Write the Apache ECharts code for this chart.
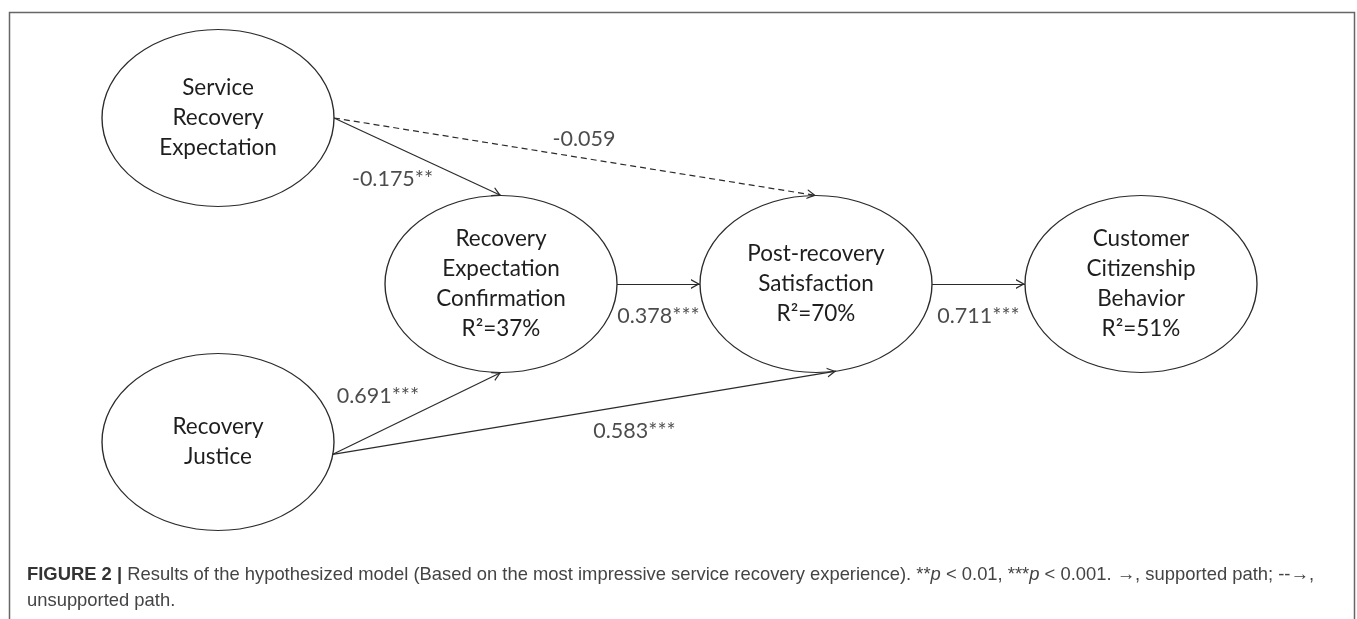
<!DOCTYPE html>
<html><head><meta charset="utf-8">
<script src="https://cdn.jsdelivr.net/npm/echarts@6/dist/echarts.min.js"></script>
<style>html,body{margin:0;padding:0;background:#fff}#chart{width:1357px;height:619px}</style>
</head><body><div id="chart"></div>
<script>
// ---------------- data ----------------
const constructs = ['Service Recovery Expectation', 'Recovery Expectation Confirmation', 'Post-recovery Satisfaction', 'Customer Citizenship Behavior', 'Recovery Justice'];
const constructLines = [['Service', 'Recovery', 'Expectation'], ['Recovery', 'Expectation', 'Confirmation'], ['Post-recovery', 'Satisfaction'], ['Customer', 'Citizenship', 'Behavior'], ['Recovery', 'Justice']];
const rSquared = [null, 37, 70, 51, null];
const pathFrom = [0, 0, 1, 2, 4, 4];
const pathTo = [1, 2, 2, 3, 1, 2];
const pathCoef = [-0.175, -0.059, 0.378, 0.711, 0.691, 0.583];
const pathStars = ['**', '', '***', '***', '***', '***'];
const pathSupported = [true, false, true, true, true, true];
const captionHead = 'FIGURE 2 |';
const captionBody1 = ' Results of the hypothesized model (Based on the most impressive service recovery experience). **';
const captionBody2 = ' < 0.01, ***';
const captionBody3 = ' < 0.001. \u2192, supported path; --\u2192,';
const captionBody4 = 'unsupported path.';

// ---------------- layout (pixels) ----------------
const nodeCenter = [[218, 118], [501, 284], [816, 284], [1141, 284], [218, 442]];
const nodeRx = 116, nodeRy = 88.5;
const anchorAngle = [[0, -90], [0, -90], [0, 180], [0, 180], [8, 90], [8, 80]];
const labelOffset = [[-25, 22], [9, -18], [0, 32], [0, 32], [-39, -17], [50, 18]];

const FONT = 'Lato, "Open Sans", sans-serif';
const CAPFONT = '"Liberation Sans Narrow", "Liberation Sans", sans-serif';
const INK = '#2b2b2b';
const ellipsePath = 'path://M0,50 A50,50 0 1,0 100,50 A50,50 0 1,0 0,50 Z';
const arrowPath = 'path://M5,0 L5.1,0 L5.1,0.1 Z M0,16 L5,8 L10,16 L8.6,16 L5,10.3 L1.4,16 Z';

function onEllipse(i, deg) {
  const a = deg * Math.PI / 180;
  return [nodeCenter[i][0] + nodeRx * Math.cos(a), nodeCenter[i][1] + nodeRy * Math.sin(a)];
}

const edgeData = pathFrom.map((f, k) => {
  const p1 = onEllipse(f, anchorAngle[k][0]);
  const p2 = onEllipse(pathTo[k], anchorAngle[k][1]);
  return {
    coords: [p1, p2],
    lineStyle: { type: pathSupported[k] ? 'solid' : [6, 4] }
  };
});

const edgeLabelData = edgeData.map((e, k) => {
  const m = [(e.coords[0][0] + e.coords[1][0]) / 2, (e.coords[0][1] + e.coords[1][1]) / 2];
  return { value: [m[0] + labelOffset[k][0], m[1] + labelOffset[k][1]], text: pathCoef[k].toFixed(3) + pathStars[k] };
});

const nodeData = nodeCenter.map((c, i) => ({ value: c, name: constructs[i] }));

const chart = echarts.init(document.getElementById('chart'), null, { renderer: 'canvas' });
chart.setOption({
  animation: false,
  backgroundColor: '#ffffff',
  grid: { left: 0, right: 0, top: 0, bottom: 0, containLabel: false },
  xAxis: { type: 'value', min: 0, max: 1357, show: false },
  yAxis: { type: 'value', min: 0, max: 619, inverse: true, show: false },
  title: {
    left: 27, top: 562, padding: 0,
    text: '{b|' + captionHead + '}{n|' + captionBody1 + '}{i|p}{n|' + captionBody2 + '}{i|p}{n|' + captionBody3 + '}\n{n|' + captionBody4 + '}',
    textStyle: {
      fontWeight: 'normal', fontFamily: CAPFONT, fontSize: 18.4, color: '#444',
      rich: {
        b: { fontFamily: CAPFONT, fontWeight: 'bold', fontSize: 18.4, color: '#333', lineHeight: 26 },
        n: { fontFamily: CAPFONT, fontWeight: 'normal', fontSize: 18.4, color: '#444', lineHeight: 26 },
        i: { fontFamily: CAPFONT, fontWeight: 'normal', fontStyle: 'italic', fontSize: 18.4, color: '#444', lineHeight: 26 }
      }
    }
  },
  graphic: [{
    type: 'rect', left: 7, top: 10, silent: true,
    shape: { width: 1345, height: 700 },
    style: { fill: 'none', stroke: '#666', lineWidth: 1.5 }
  }],
  series: [
    {
      type: 'scatter', silent: true, z: 2,
      symbol: ellipsePath, symbolSize: [nodeRx * 2, nodeRy * 2],
      itemStyle: { color: '#fff', borderColor: INK, borderWidth: 1.2, opacity: 1 },
      label: {
        show: true, position: 'inside', color: '#1e1e1e', fontFamily: FONT, fontSize: 22.5, lineHeight: 30,
        formatter: p => {
          const i = p.dataIndex;
          let t = constructLines[i].join('\n');
          if (rSquared[i] != null) t += '\nR\u00b2=' + rSquared[i] + '%';
          return t;
        }
      },
      data: nodeData
    },
    {
      type: 'lines', coordinateSystem: 'cartesian2d', silent: true, z: 3,
      symbol: ['none', arrowPath], symbolSize: [0, [10, 18]],
      lineStyle: { color: INK, width: 1.2, opacity: 1 },
      data: edgeData
    },
    {
      type: 'scatter', silent: true, z: 4,
      symbolSize: 1, itemStyle: { color: 'rgba(0,0,0,0)' },
      label: {
        show: true, position: 'inside', color: '#1e1e1e', fontFamily: FONT, fontSize: 21.5,
        formatter: p => edgeLabelData[p.dataIndex].text
      },
      data: edgeLabelData.map(d => d.value)
    }
  ]
});
</script>
</body></html>
